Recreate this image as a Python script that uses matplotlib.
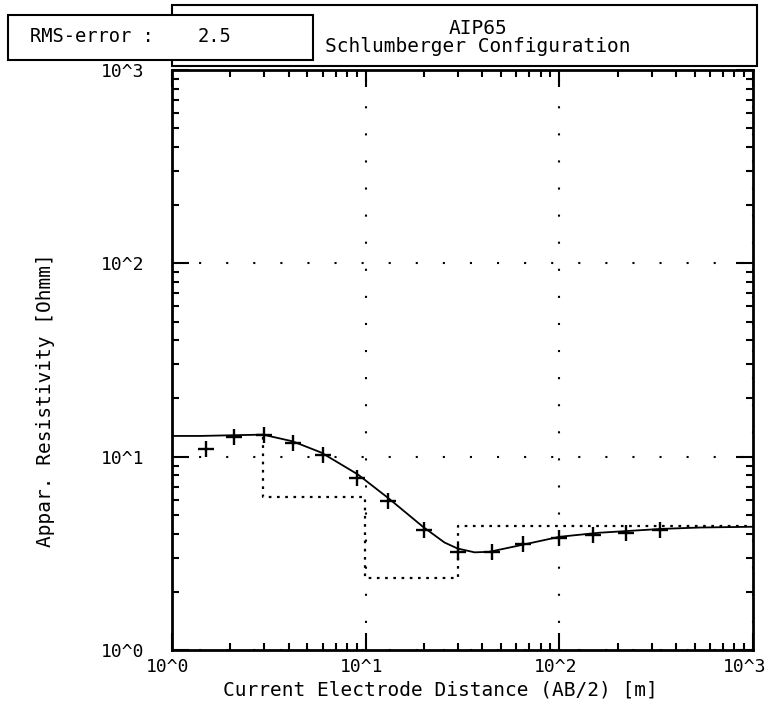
import numpy as np
import matplotlib
matplotlib.use("Agg")
import matplotlib.pyplot as plt
from matplotlib.patches import Rectangle
from matplotlib.ticker import LogLocator, NullFormatter
from matplotlib.transforms import ScaledTranslation

plt.rcParams['font.family'] = ['DejaVu Sans Mono']

# measured apparent resistivity (AB/2 [m], rho [Ohmm])
ab2 = [1.5, 2.1, 3.0, 4.2, 6.0, 9.0, 13, 20, 30, 45, 65, 100, 150, 220, 330]
rho = [11.0, 12.7, 13.0, 11.7, 10.2, 7.8, 5.9, 4.2, 3.22, 3.22, 3.55, 3.8, 3.94, 4.04, 4.2]

# fitted model curve
fit_ab2 = [1.0, 1.4, 2.0, 2.95, 4.2, 5.9, 9.1, 13.1, 19.7, 25.5, 29.8, 36.5, 43.5, 64.5, 100, 160, 336, 530, 1000]
fit_rho = [12.8, 12.8, 12.9, 13.0, 12.0, 10.5, 8.1, 6.1, 4.35, 3.6, 3.35, 3.2, 3.22, 3.5, 3.85, 4.04, 4.23, 4.3, 4.34]

# layered model (depth boundaries and layer resistivities)
layer_depth = [2.95, 9.9, 29.8]
layer_rho = [12.7, 6.2, 2.36, 4.4]

x_ticks = [1, 10, 100, 1000]
x_ticklabels = ['10^0', '10^1', '10^2', '10^3']
y_ticks = [1, 10, 100, 1000]
y_ticklabels = ['10^0', '10^1', '10^2', '10^3']

rms_error = 2.5
station = 'AIP65'

W, H = 766, 715
fig = plt.figure(figsize=(W / 100, H / 100), dpi=100)
ax = fig.add_axes([172 / W, 1 - 650 / H, (753 - 172) / W, (650 - 70) / H])

fs = 14

# step model
xs = []
ys = []
for d, r0, r1 in zip(layer_depth, layer_rho[:-1], layer_rho[1:]):
    xs += [d, d]
    ys += [r0, r1]
xs.append(1000)
ys.append(layer_rho[-1])
ax.plot(xs, ys, color='black', lw=1.6, linestyle=(0, (1.2, 2.5)))

ax.plot(fit_ab2, fit_rho, color='black', lw=1.3)
ax.plot(ab2, rho, '+', color='black', markersize=12, mew=1.7)

ax.set_xscale('log')
ax.set_yscale('log')
ax.set_xlim(1, 1000)
ax.set_ylim(1, 1000)

ax.set_xticks(x_ticks)
ax.set_xticklabels(x_ticklabels, fontsize=13)
ax.set_yticks(y_ticks)
ax.set_yticklabels(y_ticklabels, fontsize=13)
ax.xaxis.set_minor_locator(LogLocator(base=10, subs=np.arange(2, 10)))
ax.yaxis.set_minor_locator(LogLocator(base=10, subs=np.arange(2, 10)))
ax.xaxis.set_minor_formatter(NullFormatter())
ax.yaxis.set_minor_formatter(NullFormatter())
ax.tick_params(which='both', direction='in', top=True, right=True, width=1.5)
ax.tick_params(which='major', length=12)
ax.tick_params(which='minor', length=5)
ax.tick_params(axis='x', which='major', pad=6)
ax.tick_params(axis='y', which='major', pad=20)

# x labels sit a bit left of their tick, last one kept inside the figure
for lab in ax.get_xticklabels()[:-1]:
    lab.set_transform(lab.get_transform() + ScaledTranslation(-4 / 100, 0, fig.dpi_scale_trans))
lab = ax.get_xticklabels()[-1]
lab.set_transform(lab.get_transform() + ScaledTranslation(-8 / 100, 0, fig.dpi_scale_trans))

ax.grid(True, which='major', color='black', lw=1.5, linestyle=(0, (1, 12)))
for s in ax.spines.values():
    s.set_linewidth(2)

fig.text(440 / W, 1 - 690 / H, 'Current Electrode Distance (AB/2) [m]', fontsize=fs,
         ha='center', va='center')
fig.text(46 / W, 1 - 400 / H, 'Appar. Resistivity [Ohmm]', fontsize=fs,
         ha='center', va='center', rotation=90)

# header boxes
fig.patches.append(Rectangle((172 / W, 1 - 66 / H), (757 - 172) / W, 61 / H,
                             transform=fig.transFigure, facecolor='white',
                             edgecolor='black', lw=1.5, zorder=1))
fig.patches.append(Rectangle((8 / W, 1 - 60 / H), (313 - 8) / W, 45 / H,
                             transform=fig.transFigure, facecolor='white',
                             edgecolor='black', lw=1.5, zorder=2))
fig.text(30 / W, 1 - 37 / H, 'RMS-error :', fontsize=13.5, va='center', ha='left', zorder=3)
fig.text(198 / W, 1 - 37 / H, f'{rms_error:.1f}', fontsize=13.5, va='center', ha='left', zorder=3)
fig.text(478 / W, 1 - 29 / H, station, fontsize=fs, va='center', ha='center', zorder=3)
fig.text(478 / W, 1 - 47 / H, 'Schlumberger Configuration', fontsize=fs, va='center', ha='center', zorder=3)

fig.savefig('out.png', dpi=100)
